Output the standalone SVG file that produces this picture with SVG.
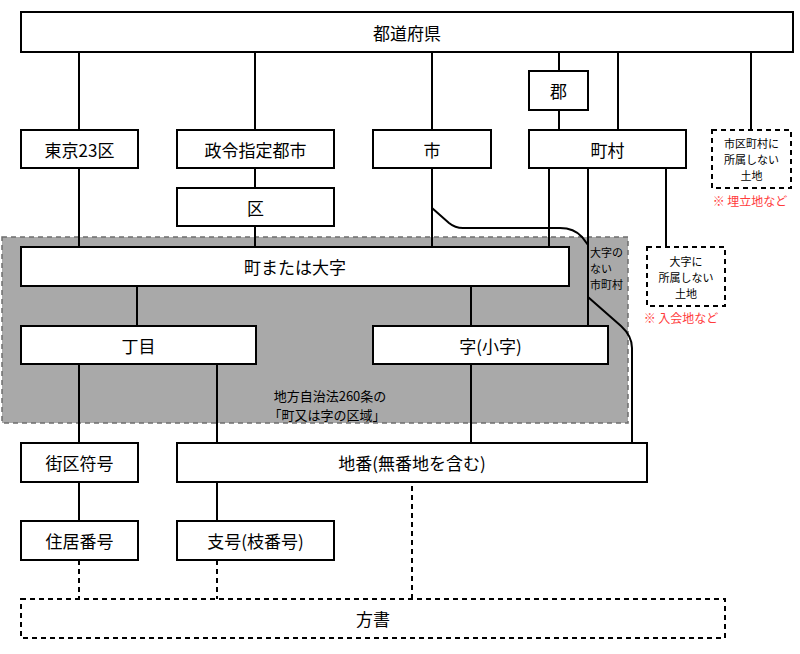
<svg xmlns="http://www.w3.org/2000/svg" width="800" height="654" viewBox="0 0 800 654">
<style>
.box{fill:#fff;stroke:#000;stroke-width:2}
.dbox{fill:#fff;stroke:#000;stroke-width:2;stroke-dasharray:5 4}
.ln{fill:none;stroke:#000;stroke-width:2}
.dln{fill:none;stroke:#000;stroke-width:2;stroke-dasharray:5 4}
text{font-family:"Noto Sans CJK JP","Noto Sans",sans-serif;fill:#000;text-anchor:middle;dominant-baseline:central}
.t{font-size:17px}
.s{font-size:11px}
.l{font-size:11px;text-anchor:start}
.r{font-size:12px;fill:#ff3b3b}
</style>
<rect id="area" x="2" y="237" width="626" height="186" fill="#a9a9a9" stroke="#6e6e6e" stroke-width="1.5" stroke-dasharray="5 4"/>
<g id="connectors">
<path class="ln" d="M79,52V130M79,168V247M255,52V130M255,168V188M255,226V247M432,52V130M432,168V247M559,52V71M559,110V130M618,52V130M751,52V130M549,168V247M588,168V326M666,168V247M137,286V326M471,286V326M79,364V443M79,482V521M217,364V443M217,482V521M471,364V443"/>
<path class="ln" d="M432,208L449,223Q455,228 463,228L560,228Q574,228 582,237L588,245V297L621,326Q632,336 632,348V443"/>
<path class="dln" d="M79,560V599M217,560V599M412,486V599"/>
</g>
<g id="pref"><rect class="box" x="21" y="12" width="772" height="40"/><text class="t" x="407" y="32">都道府県</text></g>
<g id="gun"><rect class="box" x="529" y="71" width="59" height="39"/><text class="t" x="558.5" y="90.5">郡</text></g>
<g id="tokyo23"><rect class="box" x="21" y="130" width="117" height="38"/><text class="t" x="79.5" y="149">東京23区</text></g>
<g id="seirei"><rect class="box" x="177" y="130" width="157" height="38"/><text class="t" x="255.5" y="149">政令指定都市</text></g>
<g id="shi"><rect class="box" x="373" y="130" width="118" height="38"/><text class="t" x="432" y="149">市</text></g>
<g id="chouson"><rect class="box" x="529" y="130" width="157" height="38"/><text class="t" x="607.5" y="149">町村</text></g>
<g id="unaffiliated-muni"><rect class="dbox" x="712" y="130" width="79" height="58"/><text class="s"><tspan x="751.5" y="143">市区町村に</tspan><tspan x="751.5" y="159">所属しない</tspan><tspan x="751.5" y="175">土地</tspan></text><text class="r" x="750" y="200">※ 埋立地など</text></g>
<g id="ku"><rect class="box" x="177" y="188" width="157" height="38"/><text class="t" x="255.5" y="207">区</text></g>
<g id="machi"><rect class="box" x="21" y="247" width="548" height="39"/><text class="t" x="295" y="266.5">町または大字</text></g>
<g id="no-ooaza-label"><text class="l"><tspan x="590" y="251.5">大字の</tspan><tspan x="590" y="267.5">ない</tspan><tspan x="590" y="283.5">市町村</tspan></text></g>
<g id="unaffiliated-ooaza"><rect class="dbox" x="647" y="247" width="78" height="59"/><text class="s"><tspan x="686" y="260.5">大字に</tspan><tspan x="686" y="276.5">所属しない</tspan><tspan x="686" y="292.5">土地</tspan></text><text class="r" x="681" y="317">※ 入会地など</text></g>
<g id="choume"><rect class="box" x="21" y="326" width="235" height="38"/><text class="t" x="138.5" y="345">丁目</text></g>
<g id="aza"><rect class="box" x="373" y="326" width="235" height="38"/><text class="t" x="490.5" y="345">字(小字)</text></g>
<g id="area-label"><text style="font-size:13px"><tspan x="330" y="394.5">地方自治法260条の</tspan><tspan x="327" y="413.5">「町又は字の区域」</tspan></text></g>
<g id="gaiku"><rect class="box" x="21" y="443" width="117" height="39"/><text class="t" x="79.5" y="462.5">街区符号</text></g>
<g id="chiban"><rect class="box" x="177" y="443" width="470" height="39"/><text class="t" x="412" y="462.5">地番(無番地を含む)</text></g>
<g id="juukyo"><rect class="box" x="21" y="521" width="117" height="39"/><text class="t" x="79.5" y="540.5">住居番号</text></g>
<g id="shigou"><rect class="box" x="177" y="521" width="157" height="39"/><text class="t" x="255.5" y="540.5">支号(枝番号)</text></g>
<g id="katagaki"><rect class="dbox" x="21" y="599" width="704" height="39"/><text class="t" x="373" y="618.5">方書</text></g>
</svg>
